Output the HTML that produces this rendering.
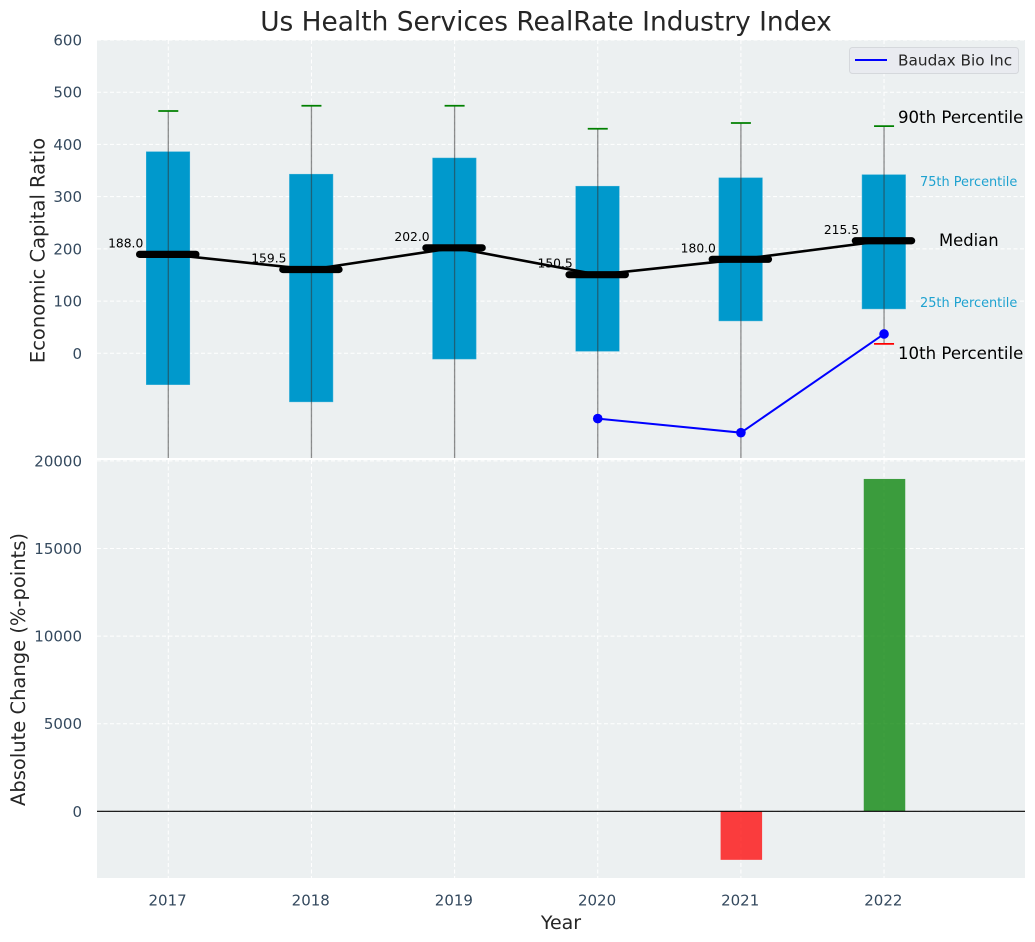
<!DOCTYPE html>
<html>
<head>
<meta charset="utf-8">
<title>Us Health Services RealRate Industry Index</title>
<style>
html,body{margin:0;padding:0;background:#fff;width:1035px;height:942px;overflow:hidden}
svg{display:block;font-family:"DejaVu Sans","Liberation Sans",sans-serif}
</style>
</head>
<body>
<svg id="chart" xmlns="http://www.w3.org/2000/svg" width="1035" height="942" viewBox="0 0 1035 942">
  <defs>
    <clipPath id="top-clip"><rect x="97" y="40" width="928" height="418"/></clipPath>
    <clipPath id="bottom-clip"><rect x="97" y="460" width="928" height="418"/></clipPath>
  </defs>
  <text x="546" y="30.5" text-anchor="middle" font-size="26.4" fill="#262626">Us Health Services RealRate Industry Index</text>
  <rect x="97" y="40" width="928" height="418" fill="#ecf0f1"/>
  <rect x="97" y="460" width="928" height="418" fill="#ecf0f1"/>
  <g id="grid"></g>
  <g id="top-marks" clip-path="url(#top-clip)"></g>
  <g id="bottom-marks" clip-path="url(#bottom-clip)"></g>
  <g id="labels"></g>
  <text transform="translate(44.5 250.5) rotate(-90)" text-anchor="middle" font-size="19.5" fill="#262626">Economic Capital Ratio</text>
  <text transform="translate(25 669.5) rotate(-90)" text-anchor="middle" font-size="19.5" fill="#262626">Absolute Change (%-points)</text>
  <text x="561" y="929" text-anchor="middle" font-size="19" fill="#262626">Year</text>
  <g>
    <rect x="849.5" y="47.5" width="169" height="26" rx="3" fill="#e9ebf0" stroke="#d5d8dc" stroke-width="1"/>
    <line x1="855" y1="60" x2="887" y2="60" stroke="#0000ff" stroke-width="2"/>
    <text x="898" y="65.5" font-size="15.3" fill="#262626">Baudax Bio Inc</text>
  </g>
  <text x="898" y="123" font-size="16.6" fill="#000">90th Percentile</text>
  <text x="920" y="186" font-size="12.9" fill="#1fa2d0">75th Percentile</text>
  <text x="939" y="246" font-size="16.4" fill="#000">Median</text>
  <text x="920" y="307" font-size="12.9" fill="#1fa2d0">25th Percentile</text>
  <text x="898" y="359" font-size="16.6" fill="#000">10th Percentile</text>
</svg>
<script>
const years = [2017, 2018, 2019, 2020, 2021, 2022];
const p90 = [464, 474, 474, 430, 441, 435];
const p75 = [386, 343, 374, 320, 336, 342];
const medians = [189.5, 160.5, 202, 150.5, 180, 215.5];
const medianLabels = ['188.0', '159.5', '202.0', '150.5', '180.0', '215.5'];
const p25 = [-60, -93, -11, 4, 62, 85];
const p10 = [-260, -270, -250, -240, -230, 18];
const companyYears = [2020, 2021, 2022];
const companyValues = [-125, -152, 37];
const changeYears = [2021, 2022];
const changeValues = [-2770, 18970];
const topTicks = [0, 100, 200, 300, 400, 500, 600];
const bottomTicks = [0, 5000, 10000, 15000, 20000];

const NS = 'http://www.w3.org/2000/svg';
const xScale = function (v) { return 168.3 + (v - 2017) * 143.15; };
const yTop = function (v) { return 353.3 - v * 0.5222; };
const yBottom = function (v) { return 811.3 - v * 0.01752; };
const grid = document.getElementById('grid');
const topMarks = document.getElementById('top-marks');
const bottomMarks = document.getElementById('bottom-marks');
const labels = document.getElementById('labels');

function make(parent, tag, props, text) {
  const el = document.createElementNS(NS, tag);
  Object.keys(props).forEach(function (k) { el.setAttribute(k, props[k]); });
  if (text !== undefined) el.textContent = text;
  parent.appendChild(el);
  return el;
}
const dash = { stroke: '#fff', 'stroke-width': 1, 'stroke-dasharray': '4 2.5' };

years.forEach(function (yr) {
  const x = xScale(yr);
  [[40, 458], [460, 878]].forEach(function (span) {
    const g = make(grid, 'line', Object.assign({ x1: x, x2: x, y1: span[0], y2: span[1] }, dash));
    
    
  });
  const t = make(labels, 'text', { x: x - 0.7, y: 905.5, 'text-anchor': 'middle', 'font-size': 15, fill: '#34495e' }, String(yr));
  
  
});

topTicks.forEach(function (v) {
  const y = yTop(v);
  const g = make(grid, 'line', Object.assign({ x1: 97, x2: 1025, y1: y, y2: y }, dash));
  
  
  const t = make(labels, 'text', { x: 82, y: y + 5.5, 'text-anchor': 'end', 'font-size': 15, fill: '#34495e' }, String(v));
  
  
});

bottomTicks.forEach(function (v) {
  const y = yBottom(v);
  const g = make(grid, 'line', Object.assign({ x1: 97, x2: 1025, y1: y, y2: y }, dash));
  
  
  const t = make(labels, 'text', { x: 82, y: y + 5.5, 'text-anchor': 'end', 'font-size': 15, fill: '#34495e' }, String(v));
  
  
});

years.forEach(function (yr, i) {
  const x = xScale(yr);
  const box = make(topMarks, 'rect', {
    x: x - 22, width: 43.5,
    y: yTop(p75[i]), height: yTop(p25[i]) - yTop(p75[i]),
    fill: '#0099cc', stroke: '#33add6', 'stroke-width': 0.5
  });
  
  
  const whisker = make(topMarks, 'line', {
    x1: x, x2: x, y1: yTop(p90[i]), y2: yTop(p10[i]),
    stroke: '#333', 'stroke-opacity': 0.55, 'stroke-width': 1.3
  });
  
  
  const cap90 = make(topMarks, 'line', {
    x1: x - 10, x2: x + 10, y1: yTop(p90[i]), y2: yTop(p90[i]),
    stroke: '#008000', 'stroke-width': 1.8
  });
  
  
  const cap10 = make(topMarks, 'line', {
    x1: x - 10, x2: x + 10, y1: yTop(p10[i]), y2: yTop(p10[i]),
    stroke: '#ff0000', 'stroke-width': 1.8
  });
  
  
});

const medianPath = make(topMarks, 'polyline', {
  points: years.map(function (yr, i) { return xScale(yr) + ',' + yTop(medians[i]); }).join(' '),
  fill: 'none', stroke: '#000', 'stroke-width': 2.6
});



years.forEach(function (yr, i) {
  const x = xScale(yr);
  const y = yTop(medians[i]);
  const bar = make(topMarks, 'line', {
    x1: x - 28.7, x2: x + 27.6, y1: y, y2: y,
    stroke: '#000', 'stroke-width': 7.2, 'stroke-linecap': 'round'
  });
  
  
  const lab = make(topMarks, 'text', {
    x: x - 25, y: y - 7, 'text-anchor': 'end', 'font-size': 12.3, fill: '#000'
  }, medianLabels[i]);
  
  
});

const companyPath = make(topMarks, 'polyline', {
  points: companyYears.map(function (yr, i) { return xScale(yr) + ',' + yTop(companyValues[i]); }).join(' '),
  fill: 'none', stroke: '#0000ff', 'stroke-width': 2
});


companyYears.forEach(function (yr, i) {
  const dot = make(topMarks, 'circle', { cx: xScale(yr), cy: yTop(companyValues[i]), r: 4.8, fill: '#0000ff' });
  
  
});

changeYears.forEach(function (yr, i) {
  const v = changeValues[i];
  const y0 = yBottom(0);
  const y1 = yBottom(v);
  const rect = make(bottomMarks, 'rect', {
    x: xScale(yr) - 20.3, width: 41.5,
    y: Math.min(y0, y1), height: Math.abs(y1 - y0),
    fill: v < 0 ? '#ff0000' : '#008000', 'fill-opacity': 0.75
  });
  
  
});

const zero = make(bottomMarks, 'line', { x1: 97, x2: 1025, y1: yBottom(0), y2: yBottom(0), stroke: '#000', 'stroke-width': 1.2 });


</script>
</body>
</html>
